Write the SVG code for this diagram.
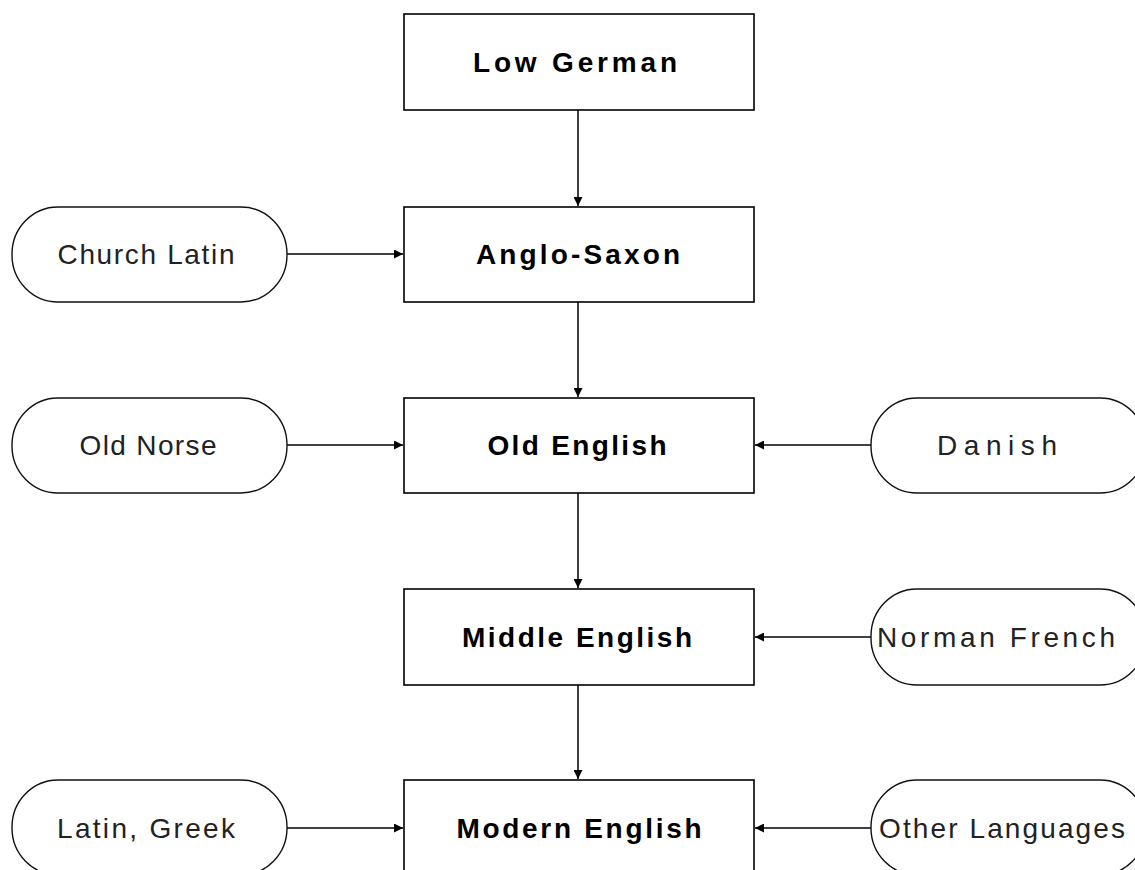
<svg xmlns="http://www.w3.org/2000/svg" width="1135" height="870" viewBox="0 0 1135 870">
<style>
.box{fill:#fff;stroke:#000;stroke-width:1.6}
.pill{fill:#fff;stroke:#111;stroke-width:1.4}
.bt{font-family:"Liberation Sans",Arial,sans-serif;font-weight:bold;font-size:28px;fill:#000;text-anchor:middle}
.pt{font-family:"Liberation Sans",Arial,sans-serif;font-size:28px;fill:#222;text-anchor:middle}
.c{stroke:#000;stroke-width:1.5;fill:none;marker-end:url(#ah)}
</style>
<defs>
<marker id="ah" viewBox="0 0 10 10" refX="10" refY="5" markerWidth="11" markerHeight="9" markerUnits="userSpaceOnUse" orient="auto">
<path d="M0,0 L10,5 L0,10 Z" fill="#000"/>
</marker>
</defs>
<g id="connectors">
<line class="c" x1="578" y1="110" x2="578" y2="206"/>
<line class="c" x1="578" y1="302" x2="578" y2="397"/>
<line class="c" x1="578" y1="493" x2="578" y2="588"/>
<line class="c" x1="578" y1="685" x2="578" y2="779"/>
<line class="c" x1="287" y1="254" x2="403" y2="254"/>
<line class="c" x1="287" y1="445" x2="403" y2="445"/>
<line class="c" x1="871" y1="445" x2="755" y2="445"/>
<line class="c" x1="871" y1="637" x2="755" y2="637"/>
<line class="c" x1="287" y1="828" x2="403" y2="828"/>
<line class="c" x1="871" y1="828" x2="755" y2="828"/>
</g>
<g id="low-german"><rect class="box" x="404" y="14" width="350" height="96"/><text class="bt" x="575" y="72" textLength="204" lengthAdjust="spacing">Low German</text></g>
<g id="anglo-saxon"><rect class="box" x="404" y="207" width="350" height="95"/><text class="bt" x="578" y="264" textLength="204" lengthAdjust="spacing">Anglo-Saxon</text></g>
<g id="old-english"><rect class="box" x="404" y="398" width="350" height="95"/><text class="bt" x="577" y="455" textLength="179" lengthAdjust="spacing">Old English</text></g>
<g id="middle-english"><rect class="box" x="404" y="589" width="350" height="96"/><text class="bt" x="577" y="647" textLength="230" lengthAdjust="spacing">Middle English</text></g>
<g id="modern-english"><rect class="box" x="404" y="780" width="350" height="100"/><text class="bt" x="579" y="838" textLength="245" lengthAdjust="spacing">Modern English</text></g>
<g id="church-latin"><rect class="pill" x="12" y="207" width="275" height="95" rx="46" ry="47"/><text class="pt" x="146" y="264" textLength="177" lengthAdjust="spacing">Church Latin</text></g>
<g id="old-norse"><rect class="pill" x="12" y="398" width="275" height="95" rx="46" ry="47"/><text class="pt" x="148" y="455" textLength="137" lengthAdjust="spacing">Old Norse</text></g>
<g id="danish"><rect class="pill" x="871" y="398" width="275" height="95" rx="46" ry="47"/><text class="pt" x="997" y="455" textLength="120" lengthAdjust="spacing">Danish</text></g>
<g id="norman-french"><rect class="pill" x="871" y="589" width="275" height="96" rx="46" ry="47"/><text class="pt" x="996" y="647" textLength="238" lengthAdjust="spacing">Norman French</text></g>
<g id="latin-greek"><rect class="pill" x="12" y="780" width="275" height="95" rx="46" ry="47"/><text class="pt" x="146" y="838" textLength="178" lengthAdjust="spacing">Latin, Greek</text></g>
<g id="other-languages"><rect class="pill" x="871" y="780" width="275" height="95" rx="46" ry="47"/><text class="pt" x="1002" y="838" textLength="246" lengthAdjust="spacing">Other Languages</text></g>
</svg>
